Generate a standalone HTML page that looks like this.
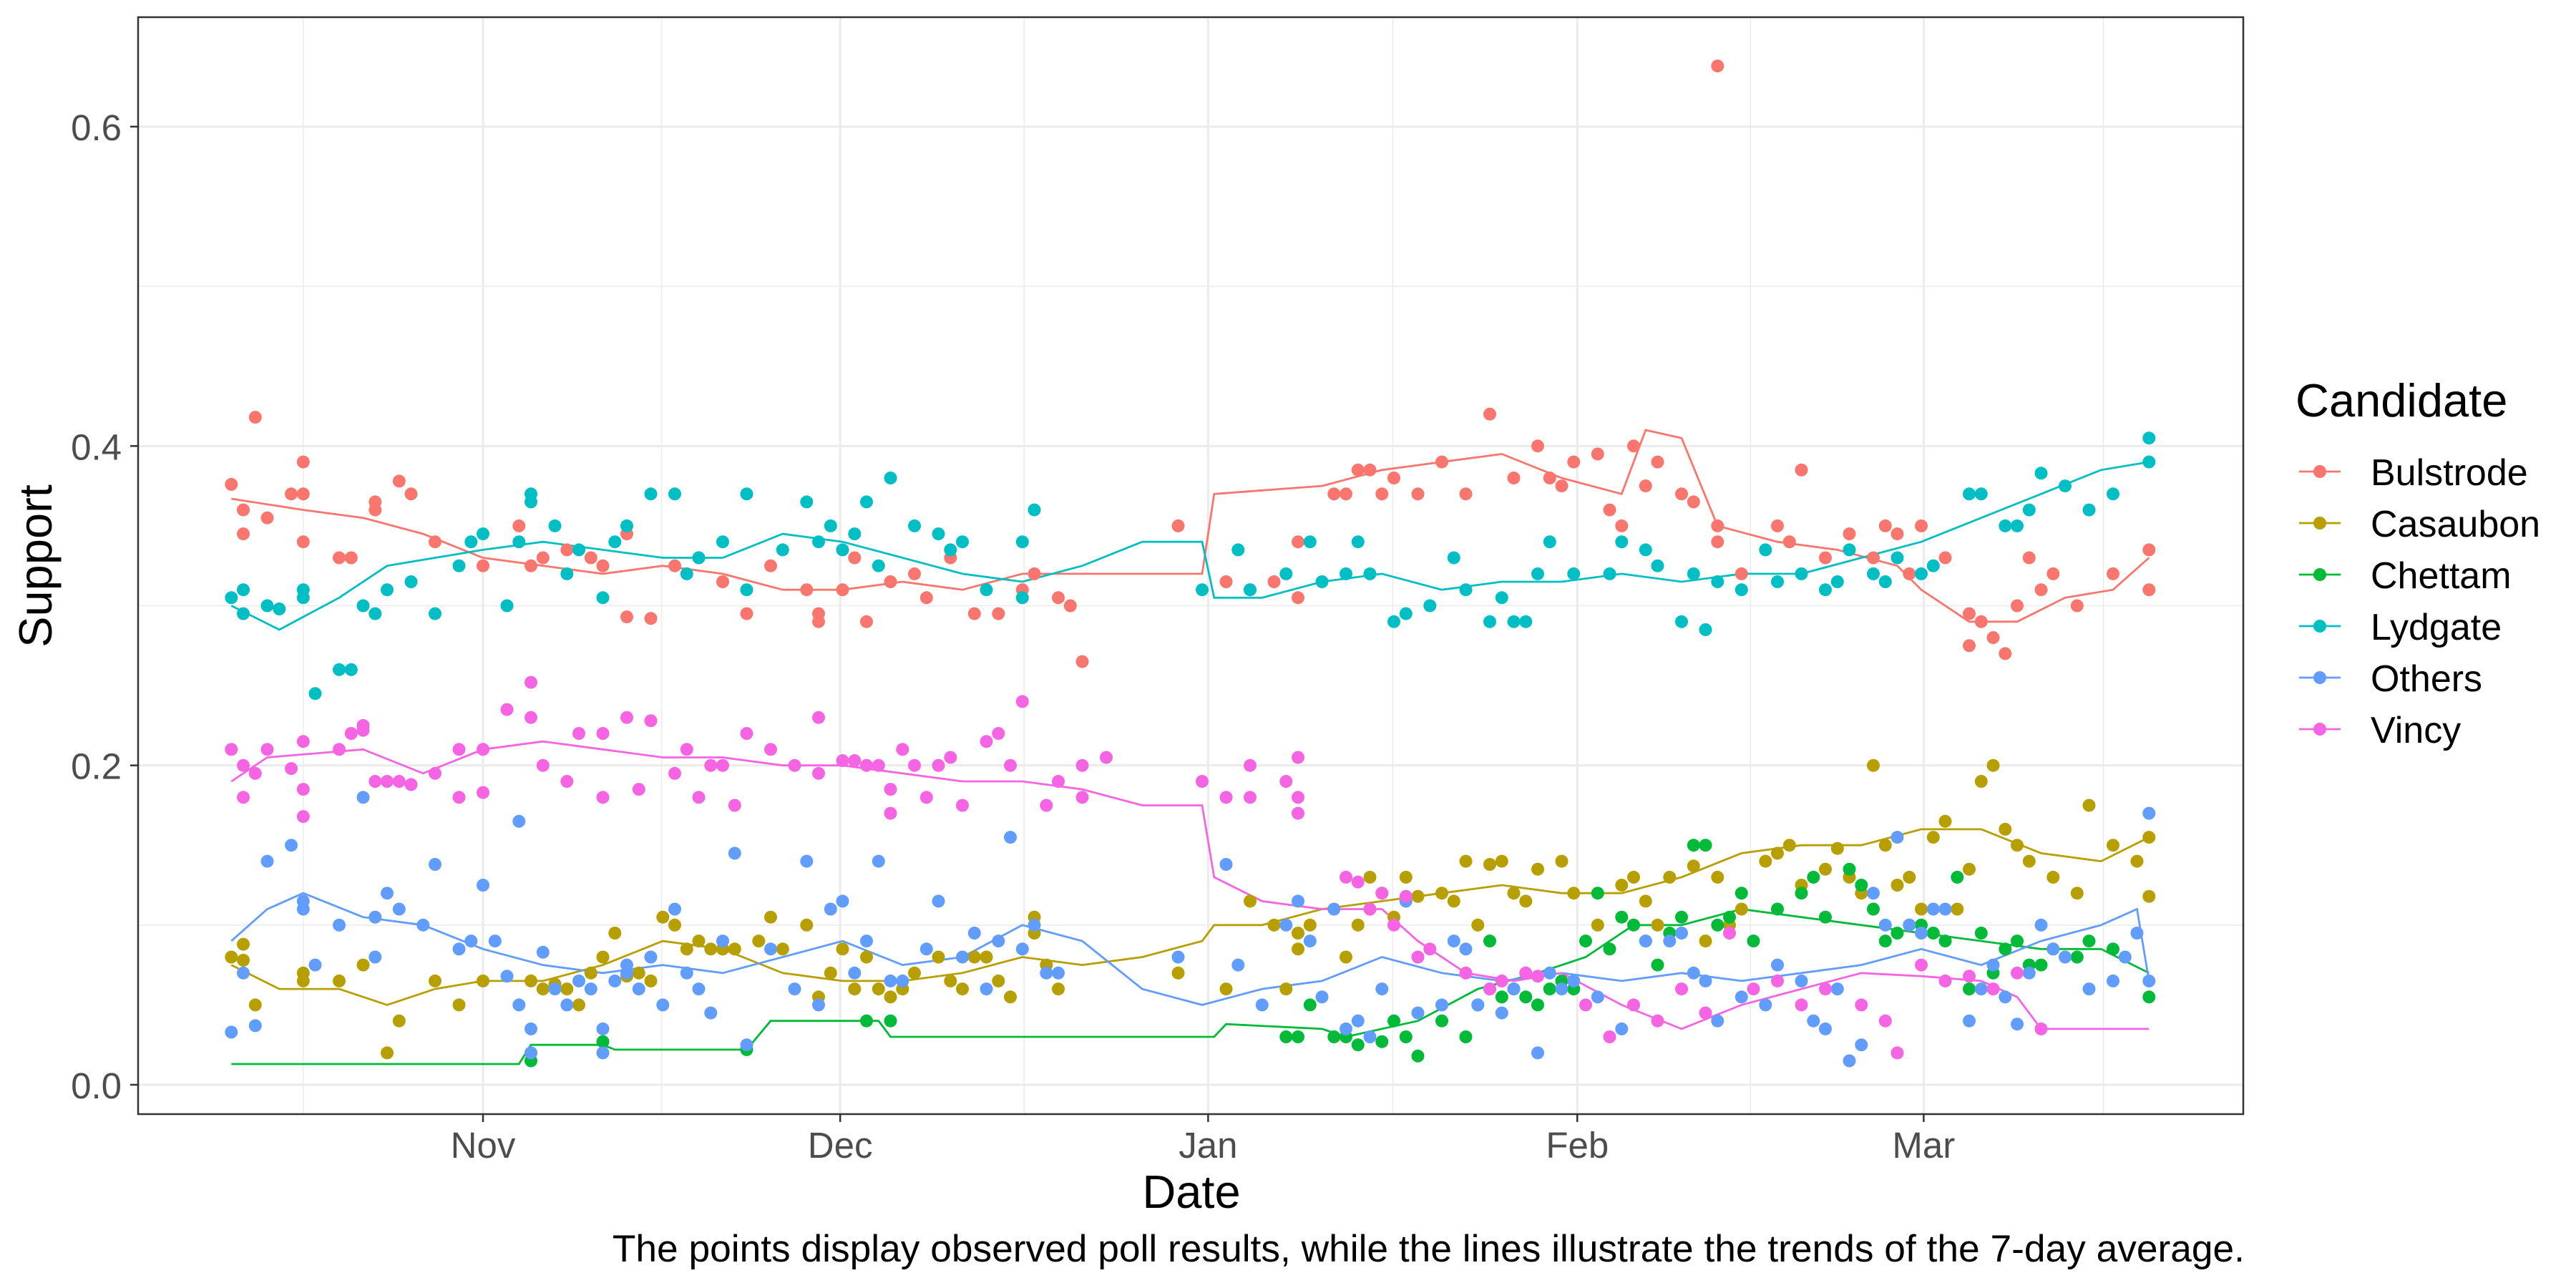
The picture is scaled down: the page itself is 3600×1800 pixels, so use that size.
<!DOCTYPE html>
<html><head><meta charset="utf-8"><style>
html,body{margin:0;padding:0;background:#fff;}
svg{display:block;font-family:"Liberation Sans",Arial,sans-serif;}
</style></head><body>
<svg id="chart" width="3600" height="1800" viewBox="0 0 3600 1800" xmlns="http://www.w3.org/2000/svg">
<rect x="0" y="0" width="3600" height="1800" fill="#fff"/>
<g id="grid"></g>
<g id="lines"></g>
<g id="points"></g>
<rect x="193" y="24" width="2942" height="1533" fill="none" stroke="#333" stroke-width="2.5"/>
<g id="axes"></g>
<text x="1665" y="1688" font-size="65" text-anchor="middle" fill="#000">Date</text>
<text transform="translate(72,791) rotate(-90)" font-size="65" text-anchor="middle" fill="#000">Support</text>
<text x="3137" y="1763" font-size="53.3" text-anchor="end" fill="#000">The points display observed poll results, while the lines illustrate the trends of the 7-day average.</text>
<g id="legend">
<text x="3208" y="582" font-size="65" fill="#000">Candidate</text>
</g>
</svg>
<script>
const candidates=["Bulstrode","Casaubon","Chettam","Lydgate","Others","Vincy"];
const colors=["#F8766D","#B79F00","#00BA38","#00BFC4","#619CFF","#F564E3"];
const yTicks=[0,0.2,0.4,0.6];
const yTickLabels=["0.0","0.2","0.4","0.6"];
const xTickDays=[0,29.8,60.5,91.3,120.2];
const xTickLabels=["Nov","Dec","Jan","Feb","Mar"];

const lineBulstrode=[[-21,.367],[-15,.36],[-10,.355],[-5,.345],[0,.33],[5,.325],[10,.32],[15,.325],[20,.32],[25,.31],[30,.31],[35,.315],[40,.31],[45,.32],[50,.32],[55,.32],[60,.32],[61,.37],[70,.375],[75,.385],[80,.39],[85,.395],[90,.38],[95,.37],[97,.41],[100,.405],[103,.35],[108,.34],[113,.335],[118,.325],[120,.31],[124,.29],[128,.29],[132,.305],[136,.31],[139,.33]];
const lineCasaubon=[[-21,.075],[-17,.06],[-12,.06],[-8,.05],[-4,.06],[0,.065],[5,.065],[10,.075],[15,.09],[20,.085],[25,.07],[30,.065],[35,.065],[40,.07],[45,.08],[50,.075],[55,.08],[60,.09],[61,.1],[65,.1],[70,.11],[75,.115],[80,.12],[85,.125],[90,.12],[95,.12],[100,.13],[105,.145],[110,.15],[115,.15],[120,.16],[125,.16],[130,.145],[135,.14],[139,.155]];
const lineChettam=[[-21,.013],[3,.013],[4,.025],[10,.025],[11,.022],[22,.022],[24,.04],[33,.04],[34,.03],[61,.03],[62,.038],[70,.035],[72,.03],[78,.04],[83,.06],[88,.07],[92,.08],[96,.1],[100,.1],[105,.11],[110,.105],[115,.1],[120,.095],[125,.09],[130,.085],[135,.085],[139,.07]];
const lineLydgate=[[-21,.30],[-17,.285],[-12,.305],[-8,.325],[-4,.33],[0,.335],[5,.34],[10,.335],[15,.33],[20,.33],[25,.345],[30,.34],[35,.33],[40,.32],[45,.315],[50,.325],[55,.34],[60,.34],[61,.305],[65,.305],[70,.315],[75,.32],[80,.31],[85,.315],[90,.315],[95,.32],[100,.315],[105,.32],[110,.32],[115,.33],[120,.34],[125,.355],[130,.37],[135,.385],[139,.39]];
const lineOthers=[[-21,.09],[-18,.11],[-15,.12],[-10,.105],[-5,.1],[0,.085],[5,.075],[10,.07],[15,.075],[20,.07],[25,.08],[30,.09],[35,.075],[40,.08],[45,.1],[50,.09],[55,.06],[60,.05],[65,.06],[70,.065],[75,.08],[80,.07],[85,.065],[90,.07],[95,.065],[100,.07],[105,.065],[110,.07],[115,.075],[120,.085],[125,.075],[130,.09],[135,.1],[138,.11],[139,.065]];
const lineVincy=[[-21,.19],[-18,.205],[-10,.21],[-5,.195],[0,.21],[5,.215],[10,.21],[15,.205],[20,.205],[25,.2],[30,.2],[35,.195],[40,.19],[45,.19],[50,.185],[55,.175],[60,.175],[61,.13],[65,.115],[70,.11],[75,.11],[78,.09],[82,.07],[86,.065],[90,.07],[95,.05],[100,.035],[105,.05],[110,.06],[115,.07],[120,.068],[125,.065],[128,.055],[130,.035],[139,.035]];

const ptsBulstrode=[[-21,.376],[-20,.36],[-20,.345],[-19,.418],[-18,.355],[-16,.37],[-15,.39],[-15,.37],[-15,.34],[-12,.33],[-11,.33],[-9,.36],[-9,.365],[-7,.378],[-6,.37],[-4,.34],[0,.325],[3,.35],[4,.325],[5,.33],[7,.335],[9,.33],[10,.325],[12,.345],[12,.293],[14,.292],[16,.325],[18,.33],[20,.315],[22,.295],[24,.325],[27,.31],[28,.295],[28,.29],[30,.31],[31,.33],[32,.29],[34,.315],[36,.32],[37,.305],[39,.33],[41,.295],[43,.295],[45,.31],[46,.32],[48,.305],[49,.30],[50,.265],[58,.35],[62,.315],[64,.31],[66,.315],[68,.34],[68,.305],[71,.37],[72,.37],[73,.385],[74,.385],[75,.37],[76,.38],[78,.37],[80,.39],[82,.37],[84,.42],[86,.38],[88,.4],[89,.38],[90,.375],[91,.39],[93,.395],[94,.36],[95,.35],[96,.4],[97,.375],[98,.39],[100,.37],[101,.365],[103,.35],[103,.34],[103,.638],[105,.32],[108,.35],[109,.34],[110,.385],[112,.33],[114,.345],[116,.33],[117,.35],[118,.345],[119,.32],[120,.35],[122,.33],[124,.295],[124,.275],[125,.29],[126,.28],[127,.27],[128,.3],[129,.33],[130,.31],[131,.32],[133,.3],[136,.32],[139,.31],[139,.335]];
const ptsCasaubon=[[-21,.08],[-20,.088],[-20,.078],[-19,.05],[-15,.07],[-15,.065],[-12,.065],[-10,.075],[-8,.02],[-7,.04],[-4,.065],[-2,.05],[0,.065],[4,.065],[5,.06],[6,.063],[7,.06],[8,.05],[9,.07],[10,.08],[11,.095],[12,.068],[13,.07],[14,.065],[15,.105],[16,.1],[17,.085],[18,.09],[19,.085],[20,.085],[21,.085],[23,.09],[24,.105],[25,.085],[27,.1],[28,.055],[29,.07],[30,.085],[31,.06],[32,.08],[33,.06],[34,.055],[35,.06],[36,.07],[38,.08],[39,.065],[40,.06],[41,.08],[42,.08],[43,.065],[44,.055],[46,.095],[46,.105],[47,.075],[48,.06],[58,.07],[62,.06],[64,.115],[66,.1],[67,.06],[68,.085],[68,.095],[69,.1],[72,.08],[73,.1],[74,.13],[75,.12],[76,.105],[77,.13],[78,.118],[80,.12],[81,.115],[82,.14],[83,.1],[84,.138],[85,.14],[86,.12],[87,.115],[88,.135],[90,.14],[91,.12],[93,.1],[95,.125],[96,.13],[97,.115],[98,.1],[99,.13],[101,.137],[102,.09],[103,.13],[104,.1],[105,.11],[107,.14],[108,.145],[109,.15],[110,.125],[112,.135],[113,.148],[114,.13],[115,.12],[116,.2],[117,.15],[118,.125],[119,.13],[120,.11],[121,.155],[122,.165],[123,.11],[124,.135],[125,.19],[126,.2],[127,.16],[128,.15],[129,.14],[131,.13],[133,.12],[134,.175],[136,.15],[138,.14],[139,.155],[139,.118]];
const ptsChettam=[[4,.02],[4,.015],[10,.027],[22,.022],[32,.04],[34,.04],[67,.03],[68,.03],[69,.05],[71,.03],[72,.03],[73,.025],[75,.027],[76,.04],[77,.03],[78,.018],[80,.04],[82,.03],[83,.05],[84,.09],[85,.055],[86,.06],[87,.055],[88,.05],[89,.06],[90,.065],[91,.06],[92,.09],[93,.12],[94,.085],[95,.105],[96,.1],[97,.09],[98,.075],[99,.095],[100,.105],[101,.15],[102,.15],[103,.1],[104,.105],[105,.12],[106,.09],[108,.11],[110,.12],[111,.13],[112,.105],[114,.135],[115,.125],[116,.11],[117,.09],[118,.095],[119,.1],[120,.1],[121,.095],[122,.09],[123,.13],[124,.06],[125,.095],[126,.07],[127,.085],[128,.09],[129,.075],[130,.075],[131,.085],[133,.08],[134,.09],[136,.085],[139,.055]];
const ptsLydgate=[[-21,.305],[-20,.31],[-20,.295],[-18,.30],[-17,.298],[-15,.31],[-15,.305],[-14,.245],[-12,.26],[-11,.26],[-10,.30],[-9,.295],[-8,.31],[-6,.315],[-4,.295],[-2,.325],[-1,.34],[0,.345],[2,.30],[3,.34],[4,.365],[4,.37],[6,.35],[7,.32],[8,.335],[10,.305],[11,.34],[12,.35],[14,.37],[16,.37],[17,.32],[18,.33],[20,.34],[22,.37],[22,.31],[25,.335],[27,.365],[28,.34],[29,.35],[30,.335],[31,.345],[32,.365],[33,.325],[34,.38],[36,.35],[38,.345],[39,.335],[40,.34],[42,.31],[45,.34],[46,.36],[45,.305],[60,.31],[63,.335],[64,.31],[67,.32],[69,.34],[70,.315],[72,.32],[73,.34],[74,.32],[76,.29],[77,.295],[79,.30],[81,.33],[82,.31],[84,.29],[85,.305],[86,.29],[87,.29],[88,.32],[89,.34],[91,.32],[94,.32],[95,.34],[97,.335],[98,.325],[100,.29],[101,.32],[102,.285],[103,.315],[105,.31],[107,.335],[108,.315],[110,.32],[112,.31],[113,.315],[114,.335],[116,.32],[117,.315],[118,.33],[120,.32],[121,.325],[124,.37],[125,.37],[127,.35],[128,.35],[129,.36],[130,.383],[132,.375],[134,.36],[136,.37],[139,.405],[139,.39]];
const ptsOthers=[[-21,.033],[-20,.07],[-19,.037],[-18,.14],[-16,.15],[-15,.115],[-15,.11],[-14,.075],[-12,.1],[-10,.18],[-9,.105],[-9,.08],[-8,.12],[-7,.11],[-5,.1],[-4,.138],[-2,.085],[-1,.09],[0,.125],[1,.09],[2,.068],[3,.165],[3,.05],[4,.035],[4,.02],[5,.083],[6,.06],[7,.05],[8,.065],[9,.06],[10,.035],[10,.02],[11,.065],[12,.07],[12,.075],[13,.06],[14,.08],[15,.05],[16,.11],[17,.07],[18,.06],[19,.045],[20,.09],[21,.145],[22,.025],[24,.085],[26,.06],[27,.14],[28,.05],[29,.11],[30,.115],[31,.07],[32,.09],[33,.14],[34,.065],[35,.065],[37,.085],[38,.115],[40,.08],[41,.095],[42,.06],[43,.09],[44,.155],[45,.085],[46,.1],[47,.07],[48,.07],[58,.08],[62,.138],[63,.075],[65,.05],[67,.1],[68,.115],[69,.09],[70,.055],[71,.11],[72,.035],[73,.04],[74,.03],[75,.06],[77,.115],[78,.045],[80,.05],[81,.09],[82,.085],[83,.05],[84,.06],[85,.045],[86,.06],[87,.07],[88,.02],[89,.07],[90,.06],[91,.065],[93,.055],[95,.035],[97,.09],[99,.09],[100,.095],[101,.07],[102,.065],[103,.04],[105,.055],[107,.05],[108,.075],[110,.065],[111,.04],[112,.035],[113,.06],[114,.015],[115,.025],[116,.12],[117,.1],[118,.155],[119,.1],[120,.095],[121,.11],[122,.11],[124,.04],[125,.06],[126,.075],[127,.055],[128,.038],[129,.07],[130,.1],[131,.085],[132,.08],[134,.06],[136,.065],[137,.08],[138,.095],[139,.17],[139,.065]];
const ptsVincy=[[-21,.21],[-20,.2],[-20,.18],[-19,.195],[-18,.21],[-16,.198],[-15,.215],[-15,.185],[-15,.168],[-12,.21],[-11,.22],[-10,.225],[-10,.222],[-9,.19],[-8,.19],[-7,.19],[-6,.188],[-4,.195],[-2,.21],[-2,.18],[0,.21],[0,.183],[2,.235],[4,.23],[4,.252],[5,.20],[7,.19],[8,.22],[10,.22],[10,.18],[12,.23],[13,.185],[14,.228],[16,.195],[17,.21],[18,.18],[19,.2],[20,.2],[21,.175],[22,.22],[24,.21],[26,.2],[28,.23],[28,.195],[30,.203],[31,.203],[32,.2],[33,.2],[34,.185],[34,.17],[35,.21],[36,.2],[37,.18],[38,.2],[39,.205],[40,.175],[42,.215],[43,.22],[44,.2],[45,.24],[47,.175],[48,.19],[50,.18],[50,.2],[52,.205],[60,.19],[62,.18],[64,.2],[64,.18],[67,.19],[68,.205],[68,.17],[68,.18],[72,.13],[73,.127],[74,.11],[75,.12],[76,.1],[77,.118],[78,.08],[79,.085],[82,.07],[84,.06],[85,.065],[87,.07],[88,.068],[92,.05],[94,.03],[96,.05],[98,.04],[100,.06],[102,.045],[104,.095],[106,.06],[108,.065],[110,.05],[112,.06],[115,.05],[117,.04],[118,.02],[120,.075],[122,.065],[124,.068],[126,.06],[128,.07],[130,.035]];

const lineData=[lineBulstrode,lineCasaubon,lineChettam,lineLydgate,lineOthers,lineVincy];
const pointData=[ptsBulstrode,ptsCasaubon,ptsChettam,ptsLydgate,ptsOthers,ptsVincy];

const NS="http://www.w3.org/2000/svg";
function X(d){return 675+d*16.75;}
function Y(v){return 1516-v*2231.7;}
function mk(tag,attrs,parent){const e=document.createElementNS(NS,tag);for(const k in attrs)e.setAttribute(k,attrs[k]);parent.appendChild(e);return e;}
const grid=document.getElementById('grid'),axes=document.getElementById('axes');
const PL=193,PR=3135,PT=24,PB=1557;
for(let i=0;i<yTicks.length-1;i++){const v=(yTicks[i]+yTicks[i+1])/2;
 const l=mk('line',{x1:PL,x2:PR,y1:Y(v),y2:Y(v),stroke:'#ebebeb','stroke-width':1.5},grid);
 
 }
const minorX=[-15];
for(let i=0;i<xTickDays.length-1;i++)minorX.push((xTickDays[i]+xTickDays[i+1])/2);
minorX.push(xTickDays[xTickDays.length-1]+15);
minorX.forEach(d=>{const l=mk('line',{x1:X(d),x2:X(d),y1:PT,y2:PB,stroke:'#ebebeb','stroke-width':1.5},grid);
 
 });
yTicks.forEach((v,i)=>{
 const l=mk('line',{x1:PL,x2:PR,y1:Y(v),y2:Y(v),stroke:'#ebebeb','stroke-width':3},grid);
 
 
 const t=mk('line',{x1:PL-11,x2:PL,y1:Y(v),y2:Y(v),stroke:'#333','stroke-width':2.5},axes);
 
 
 const tx=mk('text',{x:170,y:Y(v)+19,'font-size':51,'text-anchor':'end',fill:'#4d4d4d'},axes);
 tx.textContent=yTickLabels[i];
 
 
});
xTickDays.forEach((d,i)=>{
 const l=mk('line',{x1:X(d),x2:X(d),y1:PT,y2:PB,stroke:'#ebebeb','stroke-width':3},grid);
 
 
 const t=mk('line',{x1:X(d),x2:X(d),y1:PB,y2:PB+11,stroke:'#333','stroke-width':2.5},axes);
 
 
 const tx=mk('text',{x:X(d),y:1618,'font-size':51,'text-anchor':'middle',fill:'#4d4d4d'},axes);
 tx.textContent=xTickLabels[i];
 
 
});
const lg=document.getElementById('lines'),pg=document.getElementById('points');
candidates.forEach((c,i)=>{
 const p=mk('path',{d:lineData[i].map((q,j)=>(j?'L':'M')+X(q[0]).toFixed(1)+' '+Y(q[1]).toFixed(1)).join(' '),fill:'none',stroke:colors[i],'stroke-width':2.8},lg);
 
 
});
candidates.forEach((c,i)=>{
 pointData[i].forEach(q=>{
  const e=mk('circle',{cx:X(q[0]).toFixed(1),cy:Y(q[1]).toFixed(1),r:9,fill:colors[i]},pg);
  
  
 });
});
const leg=document.getElementById('legend');
candidates.forEach((c,i)=>{
 const cy=659+i*72;
 const g=mk('g',{},leg);
 
 
 mk('line',{x1:3213,x2:3271,y1:cy,y2:cy,stroke:colors[i],'stroke-width':2.8},g);
 mk('circle',{cx:3242,cy:cy,r:9,fill:colors[i]},g);
 const t=mk('text',{x:3313,y:cy+19,'font-size':52,fill:'#000'},g);
 t.textContent=c;
});
</script>
</body></html>
